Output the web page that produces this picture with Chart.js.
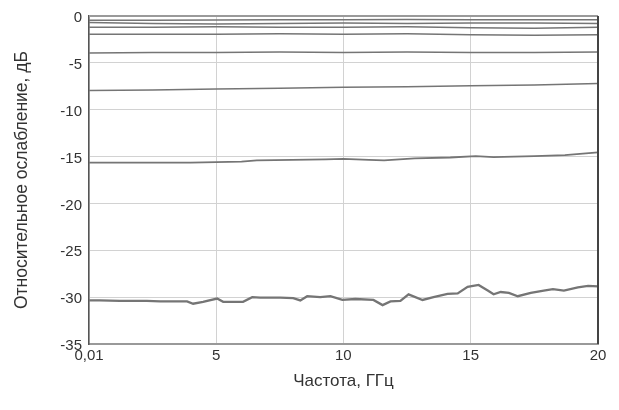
<!DOCTYPE html>
<html>
<head>
<meta charset="utf-8">
<script src="https://cdn.jsdelivr.net/npm/chart.js@4"></script>
<style>
  html, body { margin: 0; padding: 0; background: #fff; }
  #wrap { width: 619px; height: 410px; }
</style>
</head>
<body>
<div id="wrap"><canvas id="myChart" width="619" height="410"></canvas></div>
<script>
// частоты, ГГц
const xTicks = [0.01, 5, 10, 15, 20];
const yTicks = [0, -5, -10, -15, -20, -25, -30, -35];

const freqCoarse = [0.01, 2.5, 5, 7.5, 10, 12.5, 15, 17.5, 20];
const line1 = [-0.45, -0.45, -0.42, -0.4, -0.4, -0.38, -0.4, -0.4, -0.4];
const line2 = [-0.7, -0.8, -0.85, -0.8, -0.75, -0.8, -0.75, -0.75, -0.8];
const line3 = [-1.2, -1.2, -1.15, -1.2, -1.2, -1.15, -1.25, -1.3, -1.2];
const line4 = [-1.95, -1.95, -1.95, -1.9, -1.95, -1.9, -2.0, -2.05, -2.0];
const line5 = [-3.95, -3.9, -3.9, -3.85, -3.9, -3.85, -3.9, -3.9, -3.85];
const line6 = [-7.95, -7.9, -7.8, -7.7, -7.6, -7.55, -7.45, -7.35, -7.2];

const freq15 = [0.01, 2, 4, 5, 6, 6.6, 8, 9.3, 10, 11, 11.6, 12.8, 14.2, 15.2, 15.9, 17.5, 18.7, 20];
const line15 = [-15.65, -15.65, -15.65, -15.6, -15.55, -15.4, -15.35, -15.3, -15.25, -15.35, -15.4, -15.2, -15.1, -14.95, -15.05, -14.95, -14.85, -14.55];

const freq30 = [0.01, 0.43, 1.22, 2.28, 2.8, 3.86, 4.1, 4.49, 5.04, 5.28, 6.06, 6.42, 6.73, 7.52, 8.03, 8.31, 8.58, 9.09, 9.49, 9.96, 10.47, 11.18, 11.54, 11.85, 12.24, 12.56, 13.11, 13.54, 14.09, 14.49, 14.88, 15.31, 15.67, 15.9, 16.18, 16.5, 16.85, 17.36, 17.87, 18.23, 18.66, 19.21, 19.61, 20];
const line30 = [-30.35, -30.35, -30.4, -30.4, -30.45, -30.45, -30.7, -30.5, -30.15, -30.5, -30.5, -30.0, -30.05, -30.05, -30.1, -30.35, -29.9, -30.0, -29.9, -30.3, -30.2, -30.3, -30.85, -30.45, -30.4, -29.7, -30.3, -30.0, -29.65, -29.6, -28.9, -28.7, -29.3, -29.7, -29.45, -29.55, -29.9, -29.55, -29.3, -29.15, -29.3, -28.95, -28.8, -28.85];

const ctx = document.getElementById("myChart");

const serie = (xs, ys, width) => ({
  data: xs.map((x, i) => ({ x: x, y: ys[i] })),
  borderColor: "#757575",
  borderWidth: width,
  pointRadius: 0,
  tension: 0,
  fill: false,
});

// рамка графика (верх и правая сторона)
const marco = {
  id: "marco",
  afterDatasetsDraw(chart) {
    const { ctx, chartArea: a } = chart;
    ctx.save();
    ctx.strokeStyle = "#9a9a9a";
    ctx.lineWidth = 2;
    ctx.beginPath();
    ctx.moveTo(a.left, a.top);
    ctx.lineTo(a.right, a.top);
    ctx.stroke();
    ctx.strokeStyle = "#444";
    ctx.lineWidth = 2;
    ctx.beginPath();
    ctx.moveTo(a.right, a.top);
    ctx.lineTo(a.right, a.bottom);
    ctx.stroke();
    ctx.restore();
  },
};

Chart.defaults.font.family = "'Liberation Sans', Arial, sans-serif";
Chart.defaults.font.size = 15;
Chart.defaults.color = "#333";

new Chart(ctx, {
  type: "line",
  data: {
    datasets: [
      serie(freqCoarse, line1, 1.5),
      serie(freqCoarse, line2, 1.5),
      serie(freqCoarse, line3, 1.5),
      serie(freqCoarse, line4, 1.5),
      serie(freqCoarse, line5, 1.5),
      serie(freqCoarse, line6, 1.5),
      serie(freq15, line15, 1.8),
      serie(freq30, line30, 2.3),
    ],
  },
  options: {
    responsive: false,
    animation: false,
    layout: { padding: { top: 13, right: 21, left: 0, bottom: 0 } },
    plugins: { legend: { display: false }, tooltip: { enabled: false } },
    scales: {
      x: {
        type: "linear",
        min: 0.01,
        max: 20,
        afterBuildTicks: (scale) => {
          scale.ticks = xTicks.map((v) => ({ value: v }));
        },
        afterFit: (scale) => {
          scale.height = 66;
        },
        ticks: {
          padding: 3,
          maxRotation: 0,
          callback: (v) => String(v).replace(".", ","),
        },
        grid: { color: "#d2d2d2", drawTicks: false },
        border: { color: "#999", width: 2 },
        title: {
          display: true,
          text: "Частота, ГГц",
          font: { size: 17 },
          padding: { top: 0, bottom: 18 },
        },
      },
      y: {
        min: -35,
        max: 0,
        afterBuildTicks: (scale) => {
          scale.ticks = yTicks.map((v) => ({ value: v }));
        },
        afterFit: (scale) => {
          scale.width = 89;
        },
        ticks: { padding: 7, labelOffset: 2 },
        grid: { color: "#d2d2d2", drawTicks: false },
        border: { color: "#555", width: 1.5 },
        title: {
          display: true,
          text: "Относительное ослабление, дБ",
          font: { size: 17.5 },
          padding: { top: 12, bottom: 0 },
        },
      },
    },
  },
  plugins: [marco],
});
</script>
</body>
</html>
